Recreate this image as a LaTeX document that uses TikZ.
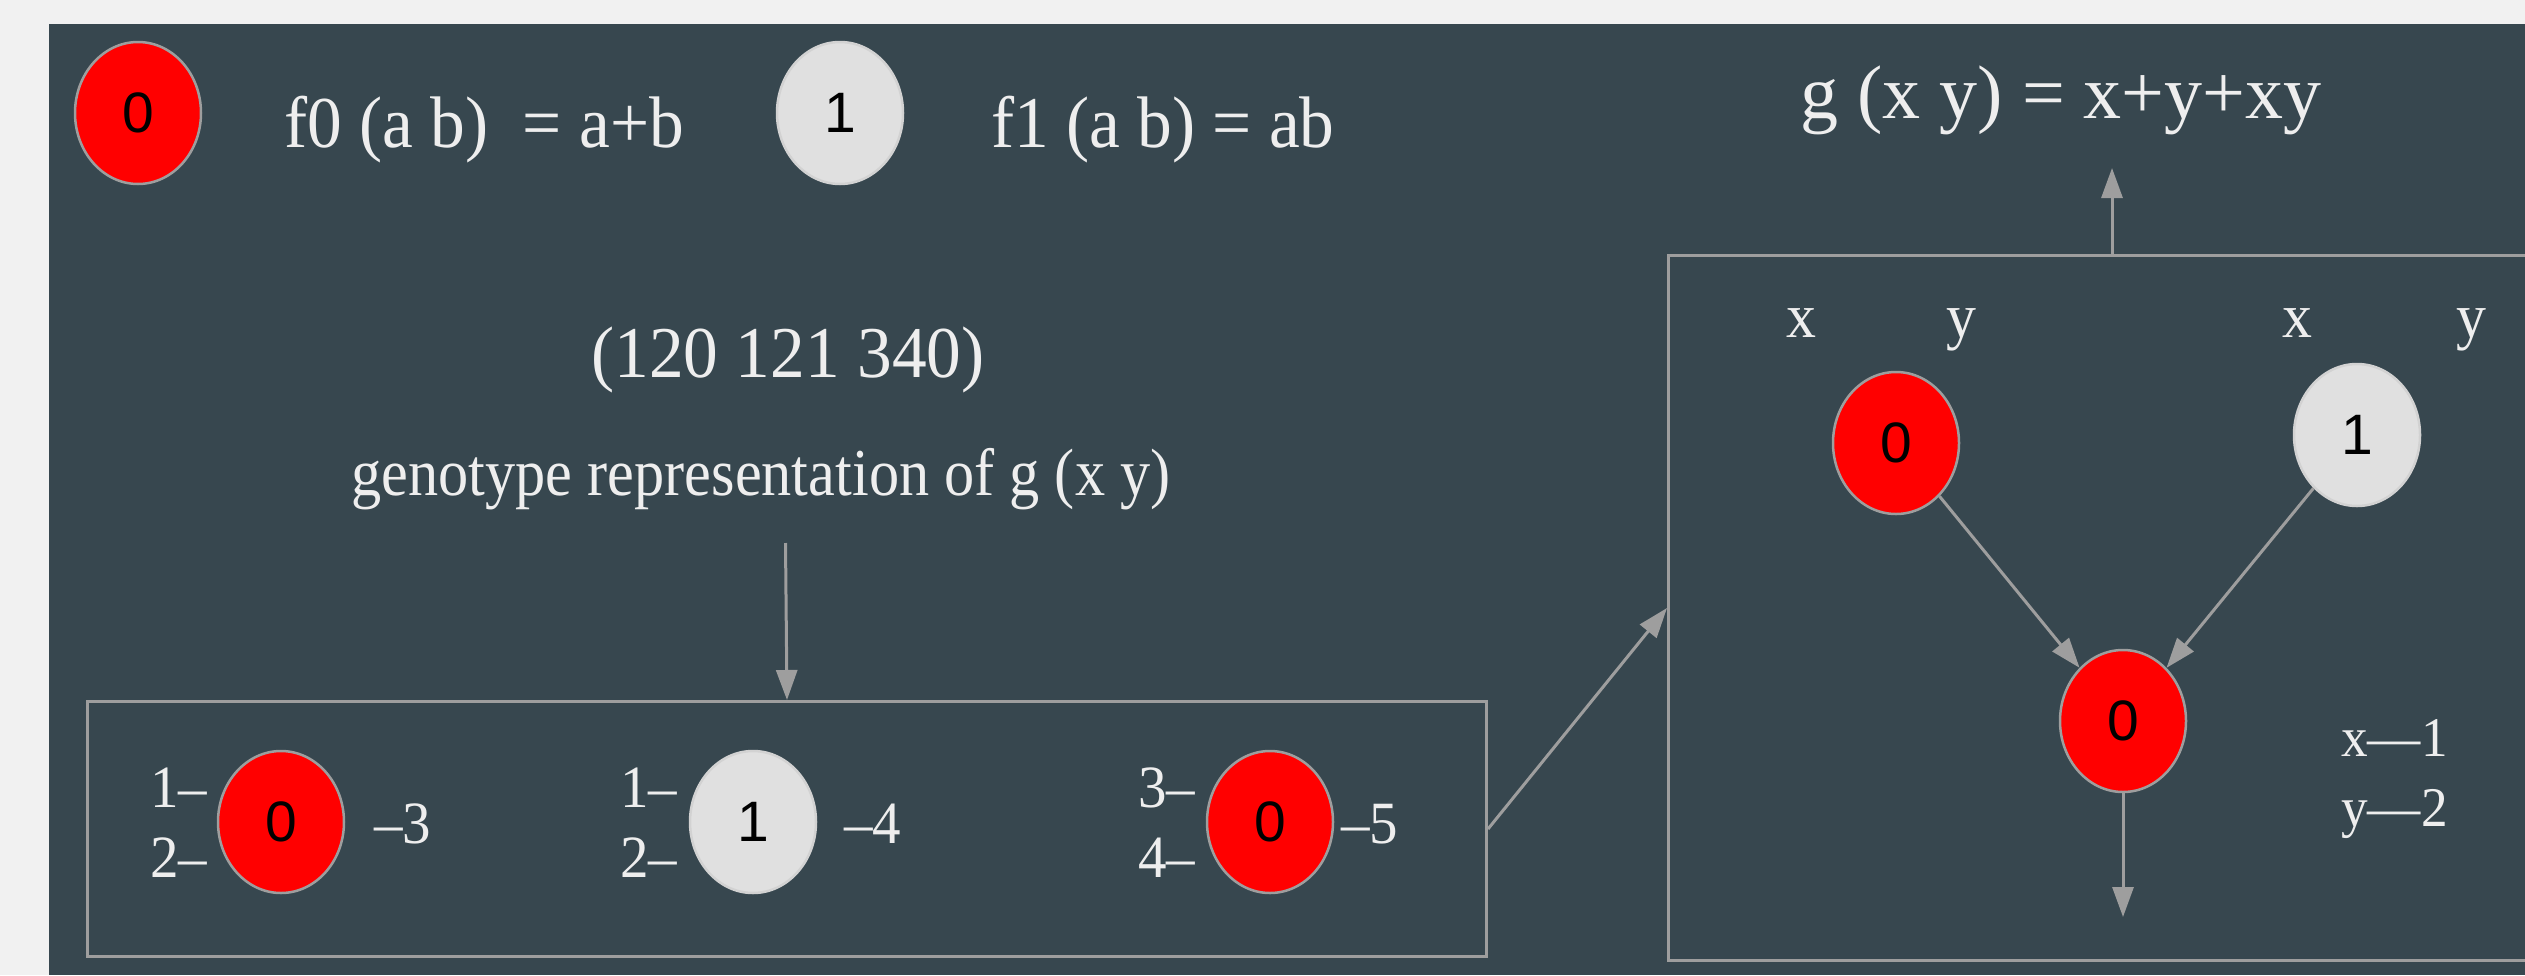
\documentclass[tikz,border=0pt]{standalone}
\usepackage{fontspec}
\setmainfont{Liberation Serif}[FakeStretch=0.95]
\newfontfamily\narrowfont{Liberation Serif}[FakeStretch=0.9]
\newfontfamily\widefont{Liberation Serif}
\newfontfamily\nodefont{Liberation Sans}
\usetikzlibrary{shapes.geometric,arrows.meta}
\definecolor{panel}{HTML}{37474F}
\definecolor{outer}{HTML}{F1F1F1}
\definecolor{linegray}{HTML}{9E9E9E}
\definecolor{txt}{HTML}{EEEEEE}
\definecolor{nodewhite}{HTML}{E0E0E0}
\begin{document}
\begin{tikzpicture}[x=1pt,y=-1pt,
  fnode/.style={ellipse, minimum width=126pt, minimum height=142pt, inner sep=0pt,
    draw=linegray, line width=2.5pt, font=\nodefont\fontsize{57}{60}\selectfont, text=black},
  rednode/.style={fnode, fill=red},
  whitenode/.style={fnode, fill=nodewhite, draw=nodewhite!85!gray},
  txtA/.style={text=txt, inner sep=0pt, font=\fontsize{73}{80}\selectfont},
  txtB/.style={text=txt, inner sep=0pt, font=\narrowfont\fontsize{67}{72}\selectfont},
  txtG/.style={text=txt, inner sep=0pt, font=\widefont\fontsize{76}{80}\selectfont},
  txtC/.style={text=txt, inner sep=0pt, font=\fontsize{63}{70}\selectfont},
  txtD/.style={text=txt, inner sep=0pt, font=\fontsize{56}{60}\selectfont},
  txtE/.style={text=txt, inner sep=0pt, font=\fontsize{60}{66}\selectfont},
  conn/.style={draw=linegray, line width=3pt, -{Triangle[length=30pt,width=21pt]}},
  boxst/.style={draw=linegray, line width=3pt, inner sep=0pt},
]
\useasboundingbox (0,0) rectangle (2525,975);
\clip (0,0) rectangle (2525,975);
\fill[outer] (0,0) rectangle (2525,975);
\fill[panel] (49,24) rectangle (2525,975);

% legend
\node[rednode] (k0) at (138,113) {0};
\node[txtA, anchor=base west] (f0) at (284,147) {f0 (a b)\ \ = a+b};
\node[whitenode] (k1) at (840,113) {1};
\node[txtA, anchor=base west] (f1) at (991,147) {f1 (a b) = ab};

% genotype text
\node[txtA, anchor=base] (geno) at (788,377) {(120 121 340)};
\node[txtB, anchor=base] (gdesc) at (761,495) {genotype representation of g (x y)};

% left box
\node[boxst, anchor=north west, minimum width=1399pt, minimum height=255pt] (box1) at (86,700) {};
\coordinate (descbot) at (785.5,543);
\draw[conn] (descbot) -- (box1.north);

\node[rednode] (a) at (281,822) {0};
\node[whitenode] (b) at (753,822) {1};
\node[rednode] (c) at (1270,822) {0};

\node[txtE, anchor=base west] (a1) at (150,807) {1–};
\node[txtE, anchor=base west] (a2) at (150,877) {2–};
\node[txtE, anchor=base west] (a3) at (374,843) {–3};
\node[txtE, anchor=base west] (b1) at (620,807) {1–};
\node[txtE, anchor=base west] (b2) at (620,877) {2–};
\node[txtE, anchor=base west] (b3) at (844,843) {–4};
\node[txtE, anchor=base west] (c1) at (1138,807) {3–};
\node[txtE, anchor=base west] (c2) at (1138,877) {4–};
\node[txtE, anchor=base west] (c3) at (1341,843) {–5};

% right box
\node[boxst, anchor=north west, minimum width=1000pt, minimum height=705pt] (box2) at (1667,254) {};
\draw[conn] (box1.east) -- (box2.west);

\node[txtG, anchor=base] (gt) at (2061,118) {g (x y) = x+y+xy};
\coordinate (gout) at (2112,254);
\coordinate (gin) at (2112,168);
\draw[conn] (gout) -- (gin);

\node[rednode] (p) at (1896,443) {0};
\node[whitenode] (q) at (2357,435) {1};
\node[rednode] (r) at (2123,721) {0};
\draw[conn] (p) -- (r);
\draw[conn] (q) -- (r);
\coordinate (rout) at (2123,917);
\draw[conn] (r) -- (rout);

\node[txtC, anchor=base] (px) at (1801,337) {x};
\node[txtC, anchor=base] (py) at (1961,337) {y};
\node[txtC, anchor=base] (qx) at (2297,337) {x};
\node[txtC, anchor=base] (qy) at (2471,337) {y};

\node[txtD, anchor=base west] (lx) at (2341,756) {x—1};
\node[txtD, anchor=base west] (ly) at (2341,826) {y—2};
\end{tikzpicture}
\end{document}
